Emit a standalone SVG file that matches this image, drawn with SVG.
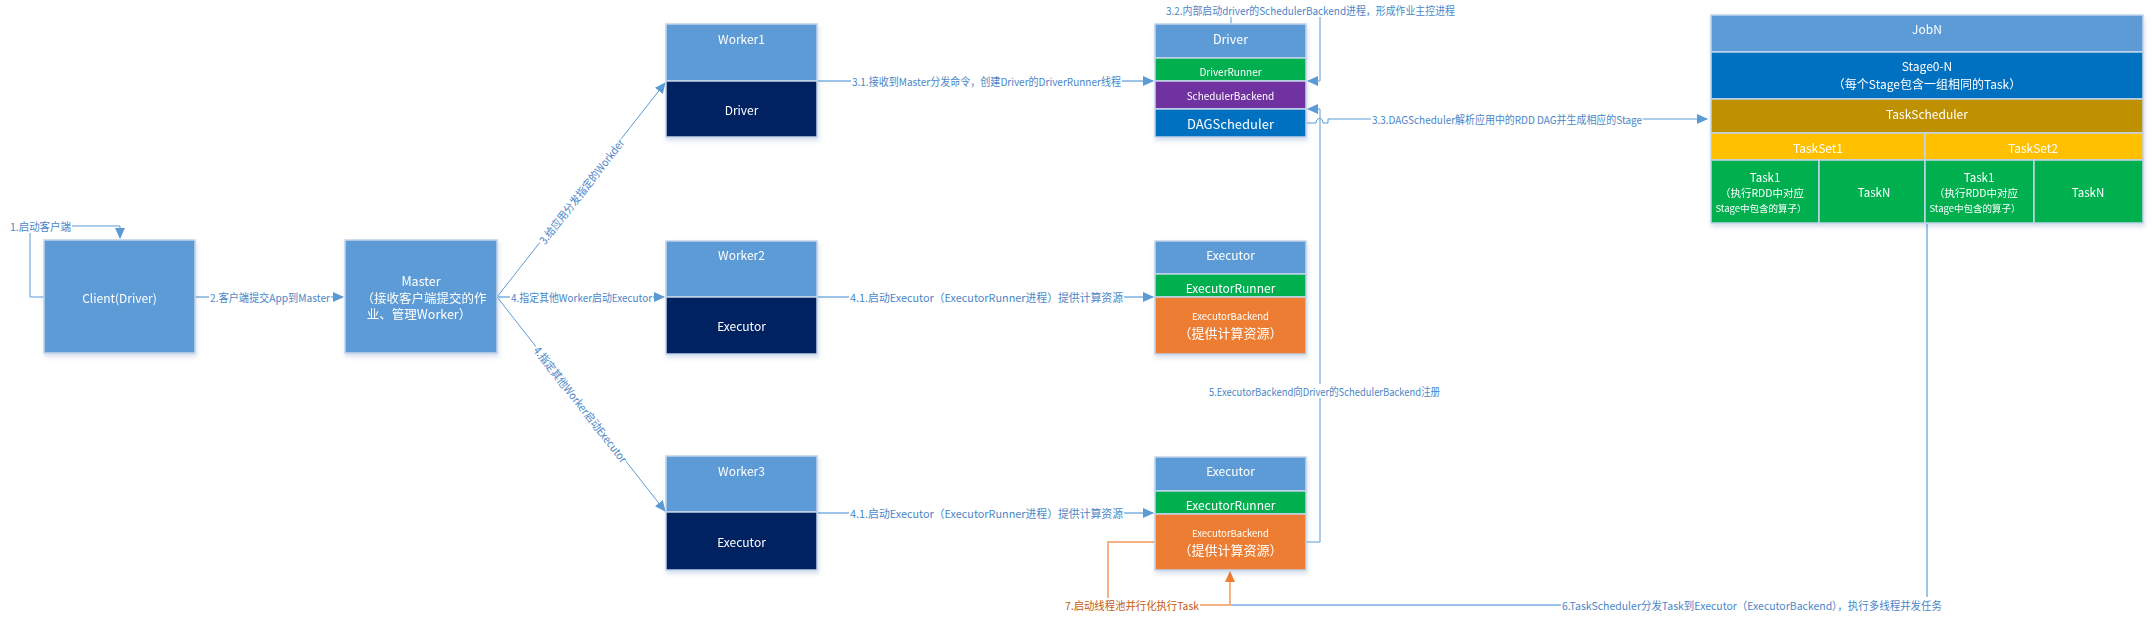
<svg xmlns="http://www.w3.org/2000/svg" width="2152" height="620" viewBox="0 0 2152 620">
<style>
  text { font-family: "Noto Sans CJK SC", "Liberation Sans", sans-serif; }
  .bx { stroke: #c2d3ea; stroke-width: 1.5; }
  .lb { fill: #5b9bd5; } .nv { fill: #002060; } .gr { fill: #00b050; } .pu { fill: #7030a0; }
  .db { fill: #0070c0; } .or { fill: #ed7d31; } .go { fill: #bf9000; } .ye { fill: #ffc000; }
  .t { fill: #ffffff; text-anchor: middle; dominant-baseline: central; }
  .thin { fill: none; stroke: #5b9bd5; stroke-width: 1; }
  .thick { fill: none; stroke: #9dc3e6; stroke-width: 2; }
  .orl { fill: none; stroke: #f4b183; stroke-width: 2; }
  .cl { fill: #4a86c8; font-size: 11px; dominant-baseline: central; }
  .bg { fill: #ffffff; }
</style>
<defs>
  <filter id="sh" x="-10%" y="-10%" width="120%" height="130%">
    <feDropShadow dx="1" dy="3" stdDeviation="2" flood-color="#5b7fb0" flood-opacity="0.25"/>
  </filter>
  <marker id="ab" markerUnits="userSpaceOnUse" markerWidth="11" markerHeight="10" refX="10" refY="5" orient="auto">
    <path d="M0,0 L11,5 L0,10 z" fill="#5b9bd5"/>
  </marker>
  <marker id="ao" markerUnits="userSpaceOnUse" markerWidth="11" markerHeight="10" refX="10" refY="5" orient="auto">
    <path d="M0,0 L11,5 L0,10 z" fill="#ed7d31"/>
  </marker>
</defs>
<rect width="2152" height="620" fill="#ffffff"/>

<g id="connectors">
  <path class="thin" d="M44,297 H30 V226 H120 V238" marker-end="url(#ab)"/>
  <path class="thick" d="M195,297 H343" marker-end="url(#ab)"/>
  <path class="thin" d="M497,297 L665,83" marker-end="url(#ab)"/>
  <path class="thick" d="M497,297 H664" marker-end="url(#ab)"/>
  <path class="thin" d="M497,297 L665,511" marker-end="url(#ab)"/>
  <path class="thick" d="M817,81 H1153" marker-end="url(#ab)"/>
  <path class="thin" d="M1231,24 V10 H1320 V81 H1308" marker-end="url(#ab)"/>
  <path class="thin" d="M1306,123 H1316 C1316,117 1323,117 1323,123 H1328 V119 H1707" marker-end="url(#ab)"/>
  <path class="thick" d="M817,297 H1153" marker-end="url(#ab)"/>
  <path class="thick" d="M817,513 H1153" marker-end="url(#ab)"/>
  <path class="thin" d="M1306,542 H1320 V109 H1308" marker-end="url(#ab)"/>
  <path class="thick" d="M1927,224 V605 H1230"/>
  <path class="orl" d="M1155,542 H1108 V605 H1230 V572" marker-end="url(#ao)"/>

  <rect class="bg" x="9" y="219" width="63" height="14"/>
  <text class="cl" x="10" y="226" textLength="61" lengthAdjust="spacingAndGlyphs">1.启动客户端</text>
  <rect class="bg" x="209" y="290" width="122" height="14"/>
  <text class="cl" x="210" y="297" textLength="120" lengthAdjust="spacingAndGlyphs">2.客户端提交App到Master</text>
  <g transform="rotate(-51.96 581 191)">
    <rect class="bg" x="515" y="184" width="132" height="14"/>
    <text class="cl" x="516" y="191" textLength="130" lengthAdjust="spacingAndGlyphs">3.给应用分发指定的Workder</text>
  </g>
  <rect class="bg" x="510" y="290" width="143" height="14"/>
  <text class="cl" x="511" y="297" textLength="141" lengthAdjust="spacingAndGlyphs">4.指定其他Worker启动Executor</text>
  <g transform="rotate(51.96 581 404)">
    <rect class="bg" x="508" y="397" width="146" height="14"/>
    <text class="cl" x="509" y="404" textLength="144" lengthAdjust="spacingAndGlyphs">4.指定其他Worker启动Executor</text>
  </g>
  <rect class="bg" x="851" y="74" width="271" height="14"/>
  <text class="cl" x="852" y="81" textLength="269" lengthAdjust="spacingAndGlyphs">3.1.接收到Master分发命令，创建Driver的DriverRunner线程</text>
  <rect class="bg" x="1165" y="3" width="291" height="14"/>
  <text class="cl" x="1166" y="10" textLength="289" lengthAdjust="spacingAndGlyphs">3.2.内部启动driver的SchedulerBackend进程，形成作业主控进程</text>
  <rect class="bg" x="1371" y="112" width="272" height="14"/>
  <text class="cl" x="1372" y="119" textLength="270" lengthAdjust="spacingAndGlyphs">3.3.DAGScheduler解析应用中的RDD DAG并生成相应的Stage</text>
  <rect class="bg" x="849" y="290" width="275" height="14"/>
  <text class="cl" x="850" y="297" textLength="273" lengthAdjust="spacingAndGlyphs">4.1.启动Executor（ExecutorRunner进程）提供计算资源</text>
  <rect class="bg" x="849" y="506" width="275" height="14"/>
  <text class="cl" x="850" y="513" textLength="273" lengthAdjust="spacingAndGlyphs">4.1.启动Executor（ExecutorRunner进程）提供计算资源</text>
  <rect class="bg" x="1208" y="384" width="233" height="14"/>
  <text class="cl" x="1209" y="391" textLength="231" lengthAdjust="spacingAndGlyphs">5.ExecutorBackend向Driver的SchedulerBackend注册</text>
  <rect class="bg" x="1561" y="597" width="382" height="15"/>
  <text class="cl" x="1562" y="605" textLength="380" lengthAdjust="spacingAndGlyphs">6.TaskScheduler分发Task到Executor（ExecutorBackend），执行多线程并发任务</text>
  <rect class="bg" x="1064" y="598" width="136" height="14"/>
  <text class="cl" x="1065" y="605" textLength="134" lengthAdjust="spacingAndGlyphs" style="fill:#c55a11">7.启动线程池并行化执行Task</text>
</g>

<g id="client" filter="url(#sh)">
  <rect class="bx lb" x="44" y="240" width="151" height="113"/>
  <text class="t" x="119.5" y="297" font-size="12">Client(Driver)</text>
</g>
<g id="master" filter="url(#sh)">
  <rect class="bx lb" x="345" y="240" width="152" height="113"/>
  <text class="t" x="421" y="280" font-size="12.5">Master</text>
  <text class="t" x="424" y="297" font-size="12.5">（接收客户端提交的作</text>
  <text class="t" x="419" y="313" font-size="12.5">业、管理Worker）</text>
</g>
<g id="worker1" filter="url(#sh)">
  <rect class="bx lb" x="666" y="24" width="151" height="57"/>
  <rect class="bx nv" x="666" y="81" width="151" height="56"/>
  <text class="t" x="741.5" y="38" font-size="12">Worker1</text>
  <text class="t" x="741.5" y="109" font-size="12">Driver</text>
</g>
<g id="worker2" filter="url(#sh)">
  <rect class="bx lb" x="666" y="241" width="151" height="56"/>
  <rect class="bx nv" x="666" y="297" width="151" height="57"/>
  <text class="t" x="741.5" y="254" font-size="12">Worker2</text>
  <text class="t" x="741.5" y="325" font-size="12">Executor</text>
</g>
<g id="worker3" filter="url(#sh)">
  <rect class="bx lb" x="666" y="456" width="151" height="56"/>
  <rect class="bx nv" x="666" y="512" width="151" height="58"/>
  <text class="t" x="741.5" y="470" font-size="12">Worker3</text>
  <text class="t" x="741.5" y="541" font-size="12">Executor</text>
</g>
<g id="driver" filter="url(#sh)">
  <rect class="bx lb" x="1155" y="24" width="151" height="34"/>
  <rect class="bx gr" x="1155" y="58" width="151" height="23"/>
  <rect class="bx pu" x="1155" y="81" width="151" height="28"/>
  <rect class="bx db" x="1155" y="109" width="151" height="28"/>
  <text class="t" x="1230.5" y="38" font-size="12.5">Driver</text>
  <text class="t" x="1230.5" y="71" font-size="10">DriverRunner</text>
  <text class="t" x="1230.5" y="95" font-size="10">SchedulerBackend</text>
  <text class="t" x="1230.5" y="123" font-size="13">DAGScheduler</text>
</g>
<g id="executor2" filter="url(#sh)">
  <rect class="bx lb" x="1155" y="241" width="151" height="33"/>
  <rect class="bx gr" x="1155" y="274" width="151" height="23"/>
  <rect class="bx or" x="1155" y="297" width="151" height="57"/>
  <text class="t" x="1230.5" y="254" font-size="12">Executor</text>
  <text class="t" x="1230.5" y="287" font-size="12">ExecutorRunner</text>
  <text class="t" x="1230.5" y="316" font-size="9.5">ExecutorBackend</text>
  <text class="t" x="1230.5" y="332" font-size="13">（提供计算资源）</text>
</g>
<g id="executor3" filter="url(#sh)">
  <rect class="bx lb" x="1155" y="457" width="151" height="34"/>
  <rect class="bx gr" x="1155" y="491" width="151" height="23"/>
  <rect class="bx or" x="1155" y="514" width="151" height="56"/>
  <text class="t" x="1230.5" y="470" font-size="12">Executor</text>
  <text class="t" x="1230.5" y="504" font-size="12">ExecutorRunner</text>
  <text class="t" x="1230.5" y="533" font-size="9.5">ExecutorBackend</text>
  <text class="t" x="1230.5" y="549" font-size="13">（提供计算资源）</text>
</g>
<g id="jobn" filter="url(#sh)">
  <rect class="bx lb" x="1711" y="15" width="432" height="37"/>
  <rect class="bx db" x="1711" y="52" width="432" height="47"/>
  <rect class="bx go" x="1711" y="99" width="432" height="34"/>
  <rect class="bx ye" x="1711" y="133" width="214" height="27"/>
  <rect class="bx ye" x="1925" y="133" width="218" height="27"/>
  <rect class="bx gr" x="1711" y="160" width="108" height="63"/>
  <rect class="bx gr" x="1819" y="160" width="106" height="63"/>
  <rect class="bx gr" x="1925" y="160" width="109" height="63"/>
  <rect class="bx gr" x="2034" y="160" width="109" height="63"/>
  <text class="t" x="1927" y="28" font-size="12">JobN</text>
  <text class="t" x="1927" y="65" font-size="12">Stage0-N</text>
  <text class="t" x="1927" y="83" font-size="12">（每个Stage包含一组相同的Task）</text>
  <text class="t" x="1927" y="113" font-size="12">TaskScheduler</text>
  <text class="t" x="1818" y="147" font-size="12">TaskSet1</text>
  <text class="t" x="2033" y="147" font-size="12">TaskSet2</text>
  <text class="t" x="1765" y="177" font-size="11.5">Task1</text>
  <text class="t" x="1762" y="192" font-size="10.5">（执行RDD中对应</text>
  <text class="t" x="1761" y="208" font-size="9.5">Stage中包含的算子）</text>
  <text class="t" x="1874" y="192" font-size="11.5">TaskN</text>
  <text class="t" x="1979" y="177" font-size="11.5">Task1</text>
  <text class="t" x="1976" y="192" font-size="10.5">（执行RDD中对应</text>
  <text class="t" x="1975" y="208" font-size="9.5">Stage中包含的算子）</text>
  <text class="t" x="2088" y="192" font-size="11.5">TaskN</text>
</g>
</svg>
